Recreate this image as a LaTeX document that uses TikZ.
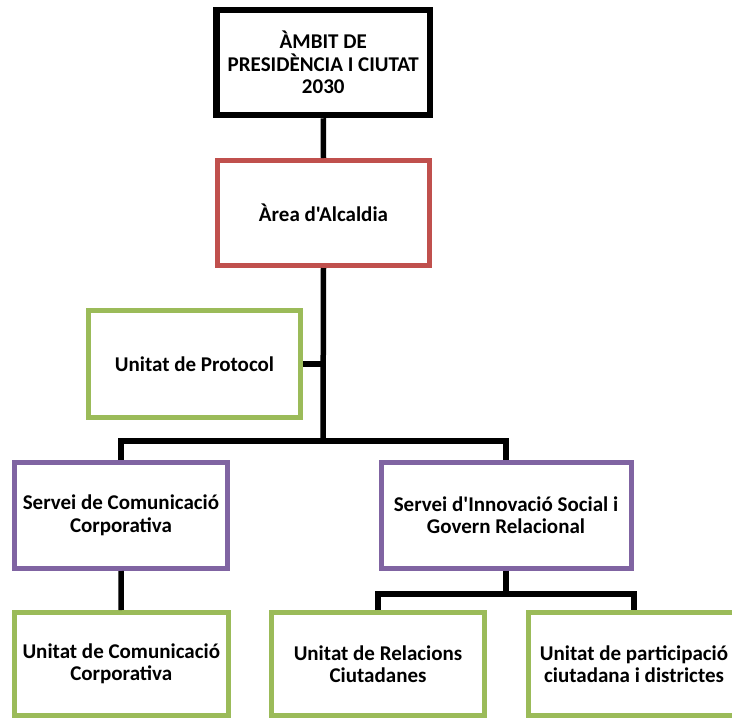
\documentclass[tikz,border=0pt]{standalone}
\usepackage{fontspec}
\setmainfont{Carlito}[Ligatures=TeXOff]
\definecolor{boxred}{HTML}{C0504D}
\definecolor{boxgreen}{HTML}{9BBB59}
\definecolor{boxpurple}{HTML}{8064A2}
\begin{document}
\begin{tikzpicture}[x=1pt,y=-1pt,
  box/.style={draw, rectangle, line width=5pt, fill=white, align=center,
    font=\fontsize{21}{22.5}\selectfont\bfseries, inner sep=0pt},
  conn/.style={draw=black, line width=5.5pt, line join=miter},
]
\useasboundingbox (0,0) rectangle (732,718);
\clip (0,0) rectangle (732,718);
\fill[white] (0,0) rectangle (732,718);

\node[box, line width=6.5pt, minimum width=213.5pt, minimum height=105pt] (top) at (323.25,62.5) {ÀMBIT DE\\PRESIDÈNCIA I CIUTAT\\2030};
\node[box, draw=boxred, minimum width=212pt, minimum height=105pt] (alc) at (323.5,213) {Àrea d'Alcaldia};
\node[box, draw=boxgreen, minimum width=212pt, minimum height=107pt] (prot) at (194.5,364) {Unitat de Protocol};
\node[box, draw=boxpurple, minimum width=213pt, minimum height=106pt] (scom) at (121,515.5) {Servei de Comunicació\\Corporativa};
\node[box, draw=boxpurple, minimum width=250pt, minimum height=106pt] (sinn) at (506,515) {Servei d'Innovació Social i\\Govern Relacional};
\node[box, draw=boxgreen, minimum width=213.5pt, minimum height=103pt] (ucom) at (121.25,664) {Unitat de Comunicació\\Corporativa};
\node[box, draw=boxgreen, minimum width=213pt, minimum height=103pt] (urel) at (378,664) {Unitat de Relacions\\Ciutadanes};
\node[box, draw=boxgreen, minimum width=212pt, minimum height=103pt] (upar) at (634,664) {Unitat de participació\\ciutadana i districtes};

\coordinate (bar1) at (323,441);
\coordinate (bar2) at (506,594);

\path[conn] (top.south) -- (alc.north);
\path[conn] (alc.south) -- (bar1);
\path[conn] (prot.east) -- (prot.east -| bar1);
\path[conn] (scom.north) -- (scom.north |- bar1) -- (sinn.north |- bar1) -- (sinn.north);
\path[conn] (scom.south) -- (ucom.north);
\path[conn] (sinn.south) -- (bar2);
\path[conn] (urel.north) -- (urel.north |- bar2) -- (upar.north |- bar2) -- (upar.north);
\end{tikzpicture}
\end{document}
